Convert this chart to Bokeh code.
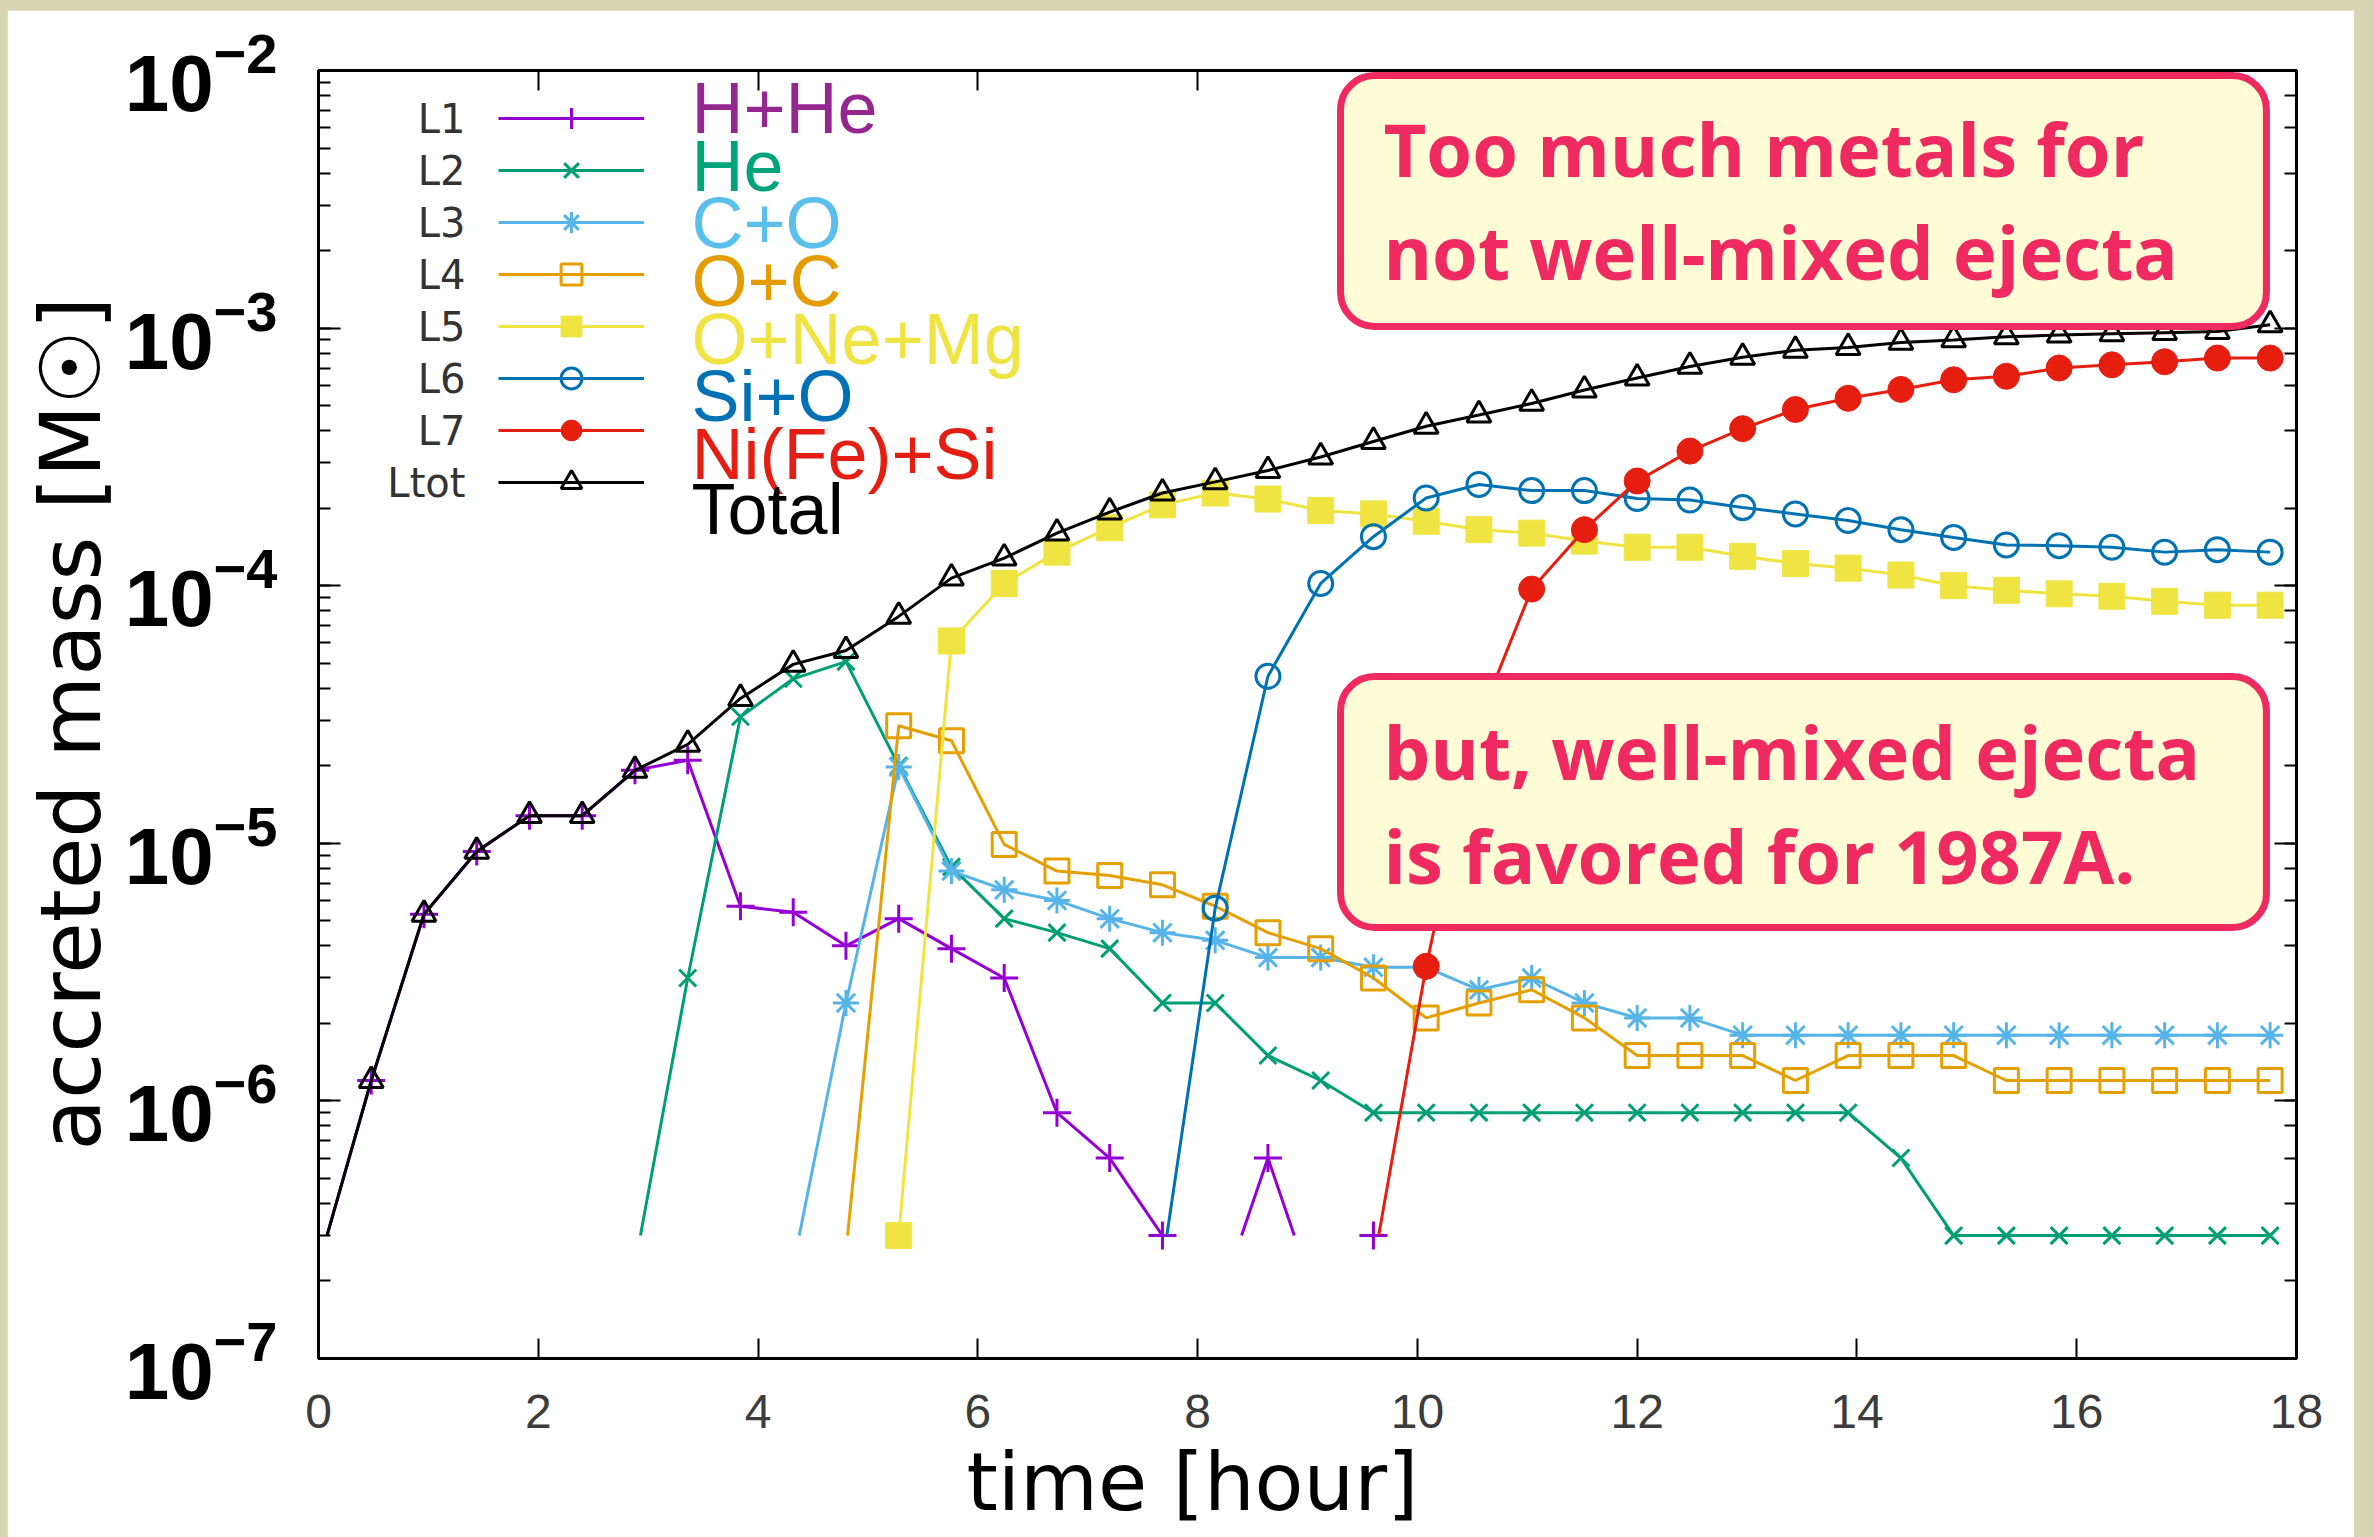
import math
from bokeh.plotting import figure
from bokeh.models import (Range1d, LogAxis, LinearAxis, FixedTicker, LogTicker, Title,
                          Legend, LegendItem, BoxAnnotation, Label, CustomJSTickFormatter)
from bokeh.layouts import column
from bokeh.embed import file_html
from bokeh.resources import INLINE

# ---------------- data ----------------
TIME = [0.00, 0.48, 0.96, 1.44, 1.92, 2.40, 2.88, 3.36, 3.84, 4.32,
        4.80, 5.28, 5.76, 6.24, 6.72, 7.20, 7.68, 8.16, 8.64, 9.12,
        9.60, 10.08, 10.56, 11.04, 11.52, 12.00, 12.48, 12.96, 13.44, 13.92,
        14.40, 14.88, 15.36, 15.84, 16.32, 16.80, 17.28, 17.76]

B = 2.3e-7  # below the plotted range (no accretion) -> only a clipped tail is visible

H_HE = [B, 1.2e-6, 5.3e-6, 9.3e-6, 1.28e-5, 1.28e-5, 1.92e-5, 2.1e-5, 5.7e-6, 5.4e-6,
        4.0e-6, 5.1e-6, 3.9e-6, 3.0e-6, 9.0e-7, 6.0e-7, 3.0e-7, 1.5e-7, 6.0e-7, 1.5e-7,
        3.0e-7, B, B, B, B, B, B, B, B, B,
        B, B, B, B, B, B, B, B]
HE = [B, B, B, B, B, B, B, 3.0e-6, 3.1e-5, 4.35e-5,
      5.07e-5, 2.0e-5, 8.1e-6, 5.1e-6, 4.5e-6, 3.9e-6, 2.4e-6, 2.4e-6, 1.5e-6, 1.2e-6,
      9.0e-7, 9.0e-7, 9.0e-7, 9.0e-7, 9.0e-7, 9.0e-7, 9.0e-7, 9.0e-7, 9.0e-7, 9.0e-7,
      6.0e-7, 3.0e-7, 3.0e-7, 3.0e-7, 3.0e-7, 3.0e-7, 3.0e-7, 3.0e-7]
C_O = [B, B, B, B, B, B, B, B, B, B,
       2.4e-6, 1.98e-5, 7.8e-6, 6.6e-6, 6.0e-6, 5.1e-6, 4.5e-6, 4.2e-6, 3.6e-6, 3.6e-6,
       3.3e-6, 3.3e-6, 2.7e-6, 3.0e-6, 2.4e-6, 2.1e-6, 2.1e-6, 1.8e-6, 1.8e-6, 1.8e-6,
       1.8e-6, 1.8e-6, 1.8e-6, 1.8e-6, 1.8e-6, 1.8e-6, 1.8e-6, 1.8e-6]
O_C = [B, B, B, B, B, B, B, B, B, B,
       2.6e-7, 2.86e-5, 2.5e-5, 9.9e-6, 7.8e-6, 7.5e-6, 6.9e-6, 5.7e-6, 4.5e-6, 3.9e-6,
       3.0e-6, 2.1e-6, 2.4e-6, 2.7e-6, 2.1e-6, 1.5e-6, 1.5e-6, 1.5e-6, 1.2e-6, 1.5e-6,
       1.5e-6, 1.5e-6, 1.2e-6, 1.2e-6, 1.2e-6, 1.2e-6, 1.2e-6, 1.2e-6]
O_NE_MG = [B, B, B, B, B, B, B, B, B, B,
           B, 3.0e-7, 6.1e-5, 1.02e-4, 1.35e-4, 1.68e-4, 2.06e-4, 2.29e-4, 2.17e-4, 1.96e-4,
           1.9e-4, 1.78e-4, 1.65e-4, 1.6e-4, 1.49e-4, 1.41e-4, 1.41e-4, 1.3e-4, 1.22e-4, 1.17e-4,
           1.1e-4, 1.0e-4, 9.6e-5, 9.3e-5, 9.1e-5, 8.7e-5, 8.4e-5, 8.4e-5]
SI_O = [B, B, B, B, B, B, B, B, B, B,
        B, B, B, B, B, B, B, 5.6e-6, 4.45e-5, 1.02e-4,
        1.55e-4, 2.19e-4, 2.47e-4, 2.34e-4, 2.34e-4, 2.18e-4, 2.15e-4, 2.01e-4, 1.9e-4, 1.79e-4,
        1.65e-4, 1.54e-4, 1.44e-4, 1.43e-4, 1.41e-4, 1.35e-4, 1.38e-4, 1.35e-4]
NI_FE_SI = [B, B, B, B, B, B, B, B, B, B,
            B, B, B, B, B, B, B, B, B, B,
            B, 3.33e-6, 3.0e-5, 9.7e-5, 1.65e-4, 2.55e-4, 3.33e-4, 4.07e-4, 4.83e-4, 5.34e-4,
            5.78e-4, 6.3e-4, 6.5e-4, 7.0e-4, 7.2e-4, 7.4e-4, 7.65e-4, 7.65e-4]
TOTAL = [B, 1.2e-6, 5.3e-6, 9.3e-6, 1.28e-5, 1.28e-5, 1.92e-5, 2.42e-5, 3.65e-5, 4.95e-5,
         5.6e-5, 7.6e-5, 1.07e-4, 1.28e-4, 1.6e-4, 1.93e-4, 2.29e-4, 2.53e-4, 2.8e-4, 3.16e-4,
         3.63e-4, 4.16e-4, 4.6e-4, 5.1e-4, 5.75e-4, 6.4e-4, 7.1e-4, 7.7e-4, 8.2e-4, 8.4e-4,
         8.8e-4, 9.0e-4, 9.25e-4, 9.4e-4, 9.5e-4, 9.6e-4, 9.7e-4, 1.03e-3]

KEYS = ["L1", "L2", "L3", "L4", "L5", "L6", "L7", "Ltot"]
NAMES = ["H+He", "He", "C+O", "O+C", "O+Ne+Mg", "Si+O", "Ni(Fe)+Si", "Total"]
VALUES = [H_HE, HE, C_O, O_C, O_NE_MG, SI_O, NI_FE_SI, TOTAL]
X_TICKS = [0, 2, 4, 6, 8, 10, 12, 14, 16, 18]

NOTE_TOP = ["Too much metals for", "not well-mixed ejecta"]
NOTE_BOTTOM = ["but, well-mixed ejecta", "is favored for 1987A."]

# ---------------- styles ----------------
LINE_COLORS = ["#9400d3", "#009e73", "#56b4e9", "#e69f00", "#f0e442", "#0072b2", "#e51e10", "#000000"]
LABEL_COLORS = ["#93278f", "#00a47c", "#5bbfec", "#e59c00", "#efe443", "#0071b5", "#e41e12", "#000000"]
MARKERS = [("cross", 28, False), ("x", 24, False), ("asterisk", 26, False), ("square", 24, False),
           ("square", 26, True), ("circle", 24, False), ("circle", 26, True), ("triangle", 24, False)]
X_MIN, X_MAX = 0, 18
Y_MIN, Y_MAX = 1e-7, 1e-2
FLOOR = 3e-7          # lowest level drawn by the original plot (lines are clipped here)
PINK = "#ee2a60"
CREAM = "#fffcd6"


def ax_x(f):
    return X_MIN + (X_MAX - X_MIN) * f


def ax_y(f):
    lo, hi = math.log10(Y_MIN), math.log10(Y_MAX)
    return 10 ** (lo + (hi - lo) * f)


def clipped_runs(ts, vs):
    runs, cur = [], []
    lf = math.log10(FLOOR)
    for k in range(len(ts) - 1):
        ta, va, tb, vb = ts[k], vs[k], ts[k + 1], vs[k + 1]
        a_in = va >= FLOOR * 0.999
        b_in = vb >= FLOOR * 0.999
        if not a_in and not b_in:
            if cur:
                runs.append(cur)
                cur = []
            continue
        if a_in and b_in:
            seg = [(ta, va), (tb, vb)]
        else:
            la, lb = math.log10(va), math.log10(vb)
            f = (lf - la) / (lb - la)
            tc = ta + f * (tb - ta)
            seg = [(ta, va), (tc, FLOOR)] if a_in else [(tc, FLOOR), (tb, vb)]
        if cur and cur[-1] == seg[0]:
            cur.append(seg[1])
        else:
            if cur:
                runs.append(cur)
            cur = list(seg)
    if cur:
        runs.append(cur)
    return runs


W, H = 2347, 1527
p = figure(width=W, height=H, output_backend="svg", toolbar_location=None,
           x_range=Range1d(X_MIN, X_MAX), y_range=Range1d(Y_MIN, Y_MAX), y_axis_type="log",
           min_border_left=311, min_border_right=58, min_border_top=60, min_border_bottom=179,
           background_fill_color="white", border_fill_color="white")
p.xgrid.grid_line_color = None
p.ygrid.grid_line_color = None
p.outline_line_color = "black"
p.outline_line_width = 3

xa = p.xaxis[0]
xa.ticker = FixedTicker(ticks=X_TICKS)
xa.major_tick_in = 20
xa.major_tick_out = 0
xa.minor_tick_line_color = None
xa.axis_line_width = 3
xa.major_tick_line_width = 2
xa.major_label_standoff = 36
xa.major_label_text_font = "Liberation Sans"
xa.major_label_text_font_size = "48px"
xa.major_label_text_color = "#3c3c3c"

ya = p.yaxis[0]
ya.major_tick_in = 22
ya.major_tick_out = 0
ya.minor_tick_in = 12
ya.minor_tick_out = 0
ya.axis_line_width = 3
ya.major_tick_line_width = 2
ya.minor_tick_line_width = 2
ya.major_label_standoff = 41
ya.major_label_text_font = "Liberation Sans"
ya.major_label_text_font_style = "bold"
ya.major_label_text_font_size = "80px"
ya.major_label_text_color = "black"

top_ax = LinearAxis(ticker=FixedTicker(ticks=X_TICKS), major_tick_in=20, major_tick_out=0,
                    minor_tick_line_color=None, axis_line_width=3, major_tick_line_width=2,
                    formatter=CustomJSTickFormatter(code="return ''"),
                    major_label_text_color=None, major_label_standoff=0)
p.add_layout(top_ax, "above")
right_ax = LogAxis(ticker=LogTicker(), major_tick_in=22, major_tick_out=0, minor_tick_in=12,
                   minor_tick_out=0, axis_line_width=3, major_tick_line_width=2,
                   minor_tick_line_width=2, formatter=CustomJSTickFormatter(code="return ''"),
                   major_label_text_color=None, major_label_standoff=0)
p.add_layout(right_ax, "right")

# axis titles (as side titles so they sit outside the frame)
p.add_layout(Title(text="time [hour]", align="left", offset=648, standoff=6,
                   text_font="DejaVu Sans", text_font_size="80px",
                   text_font_style="normal", text_color="black"), "below")
p.add_layout(Title(text="accreted mass [M\u2609]", align="left", offset=208, standoff=4,
                   text_font="DejaVu Sans", text_font_size="84px",
                   text_font_style="normal", text_color="black"), "left")

items = []
for key, vals, col, (mk, sz, filled) in zip(KEYS, VALUES, LINE_COLORS, MARKERS):
    runs = clipped_runs(TIME, vals)
    xs = [[pt[0] for pt in run] for run in runs]
    ys = [[pt[1] for pt in run] for run in runs]
    r_line = p.multi_line(xs, ys, line_color=col, line_width=3)
    xm = [t for t, v in zip(TIME, vals) if v >= FLOOR * 0.999]
    ym = [v for v in vals if v >= FLOOR * 0.999]
    r_pts = p.scatter(xm, ym, marker=mk, size=sz, line_color=col,
                      line_width=1 if filled else 3,
                      fill_color=col if filled else None)
    items.append(LegendItem(label="", renderers=[r_line, r_pts]))

# gnuplot-style key: line samples (legend) with the key names to their left
legend = Legend(items=items, location=(180, 850), orientation="vertical",
                glyph_width=146, glyph_height=52, label_height=52, label_width=0,
                spacing=0, padding=0, margin=0, label_standoff=0,
                label_text_font_size="40px", background_fill_alpha=0,
                border_line_alpha=0)
p.add_layout(legend)

ROW_FY = [(1240 - 52 * k) / 1288 for k in range(len(KEYS))]
for key, fy in zip(KEYS, ROW_FY):
    p.add_layout(Label(x=ax_x(0.0743), y=ax_y(fy), text=key, text_color="#333333",
                       text_font="DejaVu Sans", text_font_size="40px",
                       text_baseline="middle", text_align="right"))

# coloured layer names beside the key (vertical centres)
NAME_CY = [107, 165, 222, 280, 338, 395, 453, 508]
for name, col, cy in zip(NAMES, LABEL_COLORS, NAME_CY):
    p.add_layout(Label(x=ax_x(0.1886), y=ax_y((1358 - cy) / 1288), text=name, text_color=col,
                       text_font="Liberation Sans", text_font_size="72px",
                       text_baseline="middle", text_align="left"))

# two highlighted notes
for (ftop, fbot) in [(0.9961, 0.8012), (0.5295, 0.3346)]:
    p.add_layout(BoxAnnotation(left=ax_x(0.5167), right=ax_x(0.9848),
                               top=ax_y(ftop), bottom=ax_y(fbot),
                               fill_color=CREAM, fill_alpha=1.0,
                               line_color=PINK, line_alpha=1.0, line_width=7,
                               border_radius=34, level="overlay"))
NOTE_CY = [148, 251, 751, 855]
for text, cy in zip(NOTE_TOP + NOTE_BOTTOM, NOTE_CY):
    p.add_layout(Label(x=ax_x(0.5384), y=ax_y((1358 - cy) / 1288), text=text, text_color=PINK,
                       text_font="Open Sans", text_font_style="bold", text_font_size="74px",
                       text_baseline="middle", text_align="left", level="overlay"))

page = column(p, styles={"background-color": "#d8d5b5", "padding": "10px 20px 0px 7px"})
open("out.html", "w").write(file_html(page, INLINE))
